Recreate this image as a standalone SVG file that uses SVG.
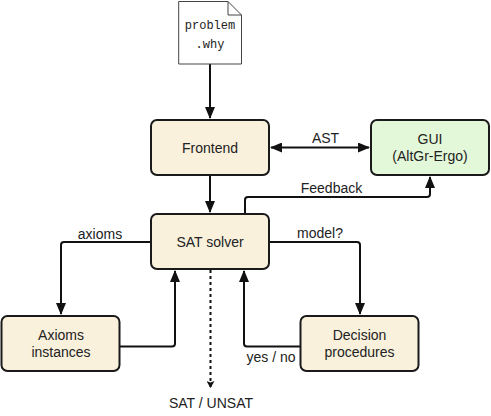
<svg xmlns="http://www.w3.org/2000/svg" width="491" height="416" viewBox="0 0 491 416">
<defs>
<style>
text{font-family:"Liberation Sans",Arial,sans-serif;font-size:14px;fill:#222;text-anchor:middle}
.box{stroke:#1a1a1a;stroke-width:2;fill:#f9f1dc}
.gui{fill:#e3f8d8}
.c{fill:none;stroke:#111;stroke-width:2}
.mono{font-family:"Liberation Mono",monospace;font-size:12px}
</style>
<marker id="a" viewBox="0 0 12 10" refX="11" refY="5" markerWidth="12" markerHeight="10" markerUnits="userSpaceOnUse" orient="auto-start-reverse"><path d="M0 0L12 5L0 10Z" fill="#111"/></marker>
<marker id="b" viewBox="0 0 7 8" refX="7" refY="4" markerWidth="7" markerHeight="8" markerUnits="userSpaceOnUse" orient="auto"><path d="M0 0L7 4L0 8L1.500 4Z" fill="#111"/></marker>
</defs>
<rect width="491" height="416" fill="#fff"/>
<g id="connectors">
<path class="c" d="M210 64V118" marker-end="url(#a)"/>
<path class="c" d="M271 147.500H369" marker-start="url(#a)" marker-end="url(#a)"/>
<path class="c" d="M210 175V212" marker-end="url(#a)"/>
<path class="c" d="M245 216V200Q245 197 248 197H427Q430 197 430 194V177" marker-end="url(#a)"/>
<path class="c" d="M151 242H64Q61 242 61 245V314" marker-end="url(#a)"/>
<path class="c" d="M269 242H357Q360 242 360 245V314" marker-end="url(#a)"/>
<path class="c" d="M120 346.500H172Q175 346.500 175 343.500V271" marker-end="url(#a)"/>
<path class="c" d="M300 346.500H247Q244 346.500 244 343.500V271" marker-end="url(#a)"/>
<path class="c" d="M210.500 270V388" stroke-dasharray="3 3" marker-end="url(#b)"/>
</g>
<g id="doc">
<path d="M178.700 1.500H228L241.500 15V64H178.700Z" fill="#fff" stroke="#444" stroke-width="1"/>
<path d="M228 1.500V15H241.500" fill="none" stroke="#444" stroke-width="1"/>
<text class="mono" x="210" y="29">problem</text>
<text class="mono" x="210" y="48">.why</text>
</g>
<g id="frontend"><rect class="box" x="151" y="120" width="118" height="55" rx="6"/><text x="210" y="152.500">Frontend</text></g>
<g id="gui"><rect class="box gui" x="371" y="120" width="118" height="55" rx="6"/><text x="430" y="144">GUI</text><text x="430" y="161">(AltGr-Ergo)</text></g>
<g id="sat"><rect class="box" x="151" y="214" width="118" height="55" rx="6"/><text x="210" y="246.500">SAT solver</text></g>
<g id="axioms"><rect class="box" x="1.500" y="316" width="118" height="55" rx="6"/><text x="61" y="340">Axioms</text><text x="61" y="357">instances</text></g>
<g id="decision"><rect class="box" x="300.500" y="316" width="118" height="55" rx="6"/><text x="359.500" y="340">Decision</text><text x="359.500" y="357">procedures</text></g>
<g id="labels">
<text x="325.500" y="143">AST</text>
<text x="331.500" y="193">Feedback</text>
<text x="100" y="239">axioms</text>
<text x="320" y="238">model?</text>
<text x="271" y="362">yes / no</text>
<text x="211" y="408">SAT / UNSAT</text>
</g>
</svg>
